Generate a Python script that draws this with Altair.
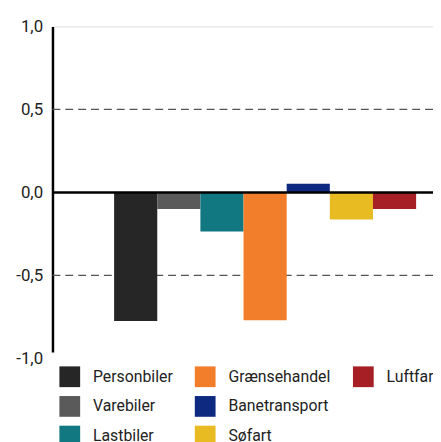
import altair as alt
import pandas as pd

categories = ["Personbiler", "Varebiler", "Lastbiler", "Grænsehandel", "Banetransport", "Søfart", "Luftfart"]
values = [-0.775, -0.10, -0.235, -0.77, 0.052, -0.163, -0.10]
colors = ["#262626", "#5a5a5a", "#117780", "#f27e2b", "#0e2a80", "#e8bb22", "#a51f24"]

# legend order (row-major in 3 columns, blank placeholder to get column-major look)
legend_order = ["Personbiler", "Grænsehandel", "Luftfart", "Varebiler", "Banetransport", " ", "Lastbiler", "Søfart"]
color_map = dict(zip(categories, colors))
legend_colors = [color_map.get(c, "rgba(0,0,0,0)") for c in legend_order]

grid_values = [-0.5, 0.5]

df = pd.DataFrame({"kategori": categories, "serie": categories, "værdi": values})
grid_df = pd.DataFrame({"y": grid_values})
zero_df = pd.DataFrame({"y": [0.0]})

FONT = "Roboto"

bars = alt.Chart(df).mark_bar(stroke=None).encode(
    x=alt.X("kategori:N", sort=categories, axis=None,
            scale=alt.Scale(paddingInner=0, paddingOuter=0.91, align=0.785, round=False)),
    y=alt.Y("værdi:Q", scale=alt.Scale(domain=[-1, 1], nice=False, zero=False),
            axis=alt.Axis(values=[-1, -0.5, 0, 0.5, 1], grid=False, ticks=False,
                          domainColor="black", domainWidth=2.5,
                          labelExpr="replace(replace(format(datum.value, '.1f'), '.', ','), '\u2212', '-')",
                          labelFont=FONT, labelFontSize=17, labelColor="#222",
                          labelPadding=10, title=None)),
    color=alt.Color("serie:N",
                    scale=alt.Scale(domain=legend_order, range=legend_colors),
                    legend=alt.Legend(title=None, orient="none", legendX=-7, legendY=330,
                                      values=legend_order, direction="horizontal",
                                      columns=3, columnPadding=22, rowPadding=9,
                                      symbolType="square", symbolSize=441,
                                      symbolStrokeWidth=0, labelOffset=13,
                                      labelFont=FONT, labelFontSize=16, labelColor="#222",
                                      fillColor="white", padding=14)),
)

grid = alt.Chart(grid_df).mark_rule(color="#555", strokeDash=[8, 5], strokeWidth=1.3).encode(
    y="y:Q"
)

zero = alt.Chart(zero_df).mark_rule(color="black", strokeWidth=2.5).encode(
    y="y:Q"
)

chart = alt.layer(grid, bars, zero).properties(
    width=385, height=336,
    autosize=alt.AutoSizeParams(type="none"),
    padding={"left": 45, "top": 16, "right": 0, "bottom": 90},
).configure_view(stroke=None).configure(font=FONT)

chart.save("out.html", embed_options={"renderer": "svg", "actions": False})
